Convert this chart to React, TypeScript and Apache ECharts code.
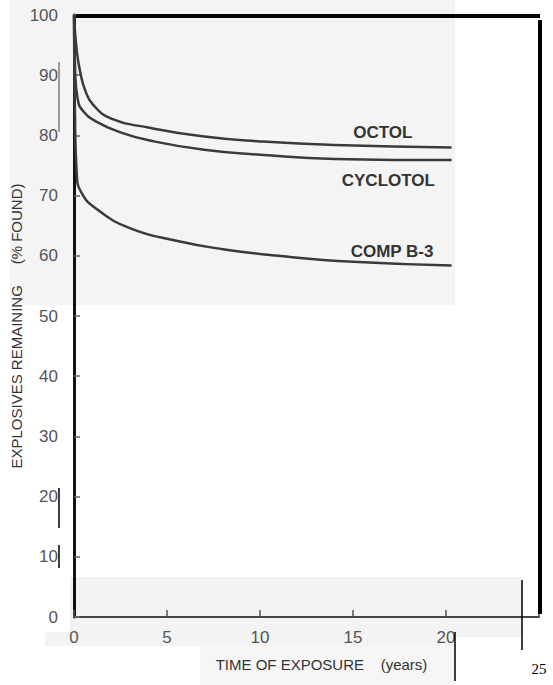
import React, { useEffect, useRef } from "react";
import * as echarts from "echarts";

const xTicks = [0, 5, 10, 15, 20, 25];
const yTicks = [0, 10, 20, 30, 40, 50, 60, 70, 80, 90, 100];

const octol: [number, number][] = [
  [0, 100], [0.15, 94], [0.35, 90.3], [0.6, 87.5], [1, 85.2],
  [2, 82.8], [4, 81.3], [7, 79.8], [10, 79.0], [14, 78.4], [20.3, 78.0],
];
const cyclotol: [number, number][] = [
  [0, 100], [0.06, 91], [0.2, 86], [0.5, 84], [1.2, 82.3],
  [2.5, 80.5], [4, 79.2], [7, 77.6], [10, 76.8], [14, 76.1], [20.3, 75.9],
];
const compB3: [number, number][] = [
  [0, 100], [0.05, 84], [0.15, 73.5], [0.4, 70.5], [1.2, 67.8],
  [3, 64.6], [5.5, 62.5], [8, 61.1], [11, 60.0], [15, 59.0], [20.3, 58.4],
];

const labelFont = "'Liberation Sans Narrow', 'Liberation Sans', sans-serif";

export default function App() {
  const ref = useRef<HTMLDivElement>(null);
  useEffect(() => {
    if (!ref.current) return;
    const chart = echarts.init(ref.current, undefined, { renderer: "svg" });
    const lineStyle = { color: "#3a3a3a", width: 2.5 };
    const mk = (text: string, coord: [number, number], dy: number) => ({
      symbol: "circle",
      symbolSize: 0,
      data: [
        {
          coord,
          label: {
            show: true,
            formatter: text,
            offset: [0, dy],
            color: "#333",
            fontSize: 17,
            fontFamily: labelFont,
            fontWeight: "bold",
          },
        },
      ],
    });
    chart.setOption({
      animation: false,
      backgroundColor: "#ffffff",
      grid: { left: 74, right: 14, top: 15, bottom: 68, outerBoundsMode: "none", containLabel: false },
      xAxis: {
        type: "value",
        min: 0,
        max: 25,
        interval: 5,
        axisLine: { show: true, lineStyle: { color: "#444", width: 2 } },
        axisTick: { show: true, inside: true, length: 7, lineStyle: { color: "#555", width: 1.5 } },
        splitLine: { show: false },
        axisLabel: {
          margin: 12,
          color: "#555",
          fontSize: 17,
          fontFamily: labelFont,
          formatter: (v: number) => (v === 25 ? "{s|25}" : String(v)),
          rich: {
            s: { fontFamily: "'Liberation Serif', serif", color: "#000", fontSize: 15, padding: [32, 0, 0, 0] },
          },
        },
        name: "TIME OF EXPOSURE    (years)",
        nameLocation: "middle",
        nameGap: 40,
        nameMoveOverlap: false,
        nameTextStyle: { color: "#333", fontSize: 15, fontFamily: labelFont, padding: [0, 0, 0, 30] },
      },
      yAxis: {
        type: "value",
        min: 0,
        max: 100,
        interval: 10,
        axisLine: { show: true, lineStyle: { color: "#111", width: 3 } },
        axisTick: { show: true, inside: true, length: 6, lineStyle: { color: "#666", width: 1.5 } },
        splitLine: { show: false },
        axisLabel: { margin: 16, color: "#555", fontSize: 17, fontFamily: labelFont },
        name: "EXPLOSIVES REMAINING     (% FOUND)",
        nameLocation: "middle",
        nameGap: 50,
        nameMoveOverlap: false,
        nameTextStyle: { color: "#333", fontSize: 15, fontFamily: labelFont, padding: [0, 20, 0, 0] },
      },
      graphic: [
        { type: "rect", z: -10, shape: { x: 10, y: 0, width: 445, height: 305 }, style: { fill: "#f4f4f4" } },
        { type: "rect", z: -10, shape: { x: 70, y: 577, width: 452, height: 60 }, style: { fill: "#f3f3f3" } },
        { type: "rect", z: -10, shape: { x: 45, y: 632, width: 410, height: 14 }, style: { fill: "#f3f3f3" } },
        { type: "rect", z: -10, shape: { x: 200, y: 646, width: 255, height: 39 }, style: { fill: "#f6f6f6" } },
        { type: "rect", z: 100, shape: { x: 76, y: 14, width: 464, height: 4 }, style: { fill: "#000" } },
        { type: "rect", z: 100, shape: { x: 538, y: 20, width: 4, height: 594 }, style: { fill: "#000" } },
        { type: "line", z: 100, shape: { x1: 59, y1: 62, x2: 59, y2: 132 }, style: { stroke: "#444", lineWidth: 1 } },
        { type: "line", z: 100, shape: { x1: 59, y1: 488, x2: 59, y2: 528 }, style: { stroke: "#000", lineWidth: 1.5 } },
        { type: "line", z: 100, shape: { x1: 59, y1: 545, x2: 59, y2: 568 }, style: { stroke: "#000", lineWidth: 1.5 } },
        { type: "line", z: 100, shape: { x1: 455, y1: 632, x2: 455, y2: 681 }, style: { stroke: "#000", lineWidth: 1.5 } },
        { type: "line", z: 100, shape: { x1: 522, y1: 580, x2: 522, y2: 650 }, style: { stroke: "#000", lineWidth: 1.5 } },
      ],
      series: [
        {
          name: "OCTOL", type: "line", data: octol, smooth: 0.5,
          showSymbol: false, lineStyle, markPoint: mk("OCTOL", [16.6, 78.1], -14),
        },
        {
          name: "CYCLOTOL", type: "line", data: cyclotol, smooth: 0.5,
          showSymbol: false, lineStyle, markPoint: mk("CYCLOTOL", [16.9, 75.9], 20),
        },
        {
          name: "COMP B-3", type: "line", data: compB3, smooth: 0.5,
          showSymbol: false, lineStyle, markPoint: mk("COMP B-3", [17.1, 58.6], -13),
        },
      ],
    });
    return () => chart.dispose();
  }, []);
  return (
    <div
      ref={ref}
      style={{ position: "fixed", left: 0, top: 0, width: 553, height: 685 }}
    />
  );
}
